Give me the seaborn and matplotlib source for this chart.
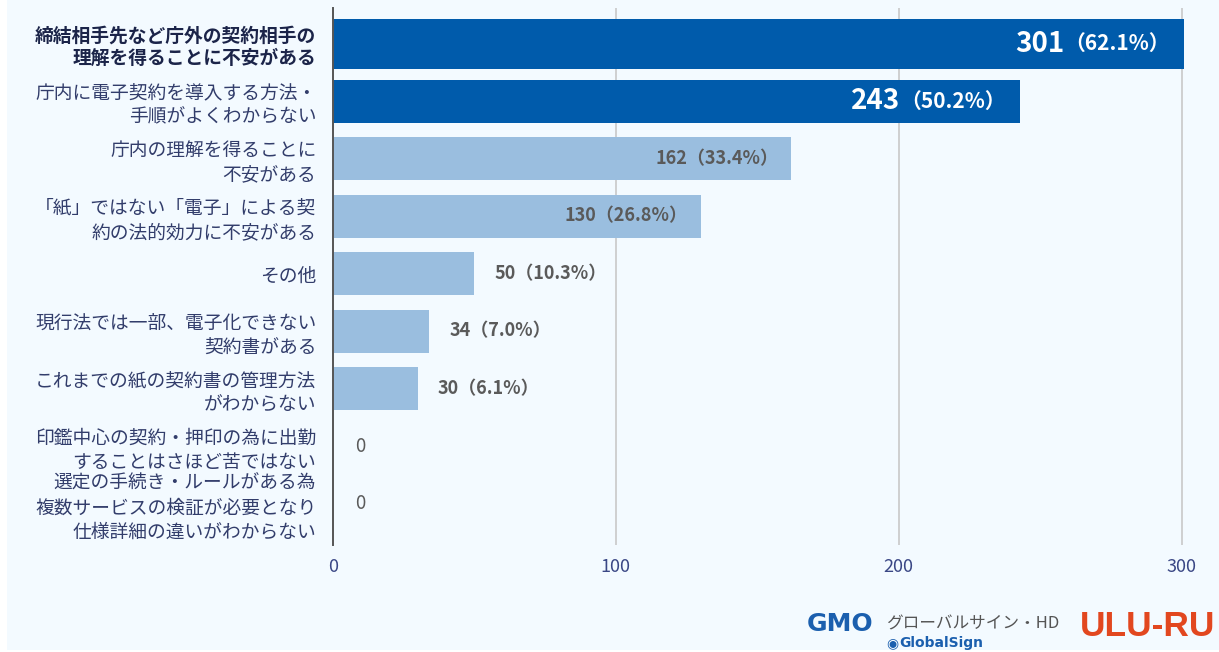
import matplotlib
matplotlib.use("Agg")
import matplotlib.pyplot as plt
import seaborn as sns
import pandas as pd
from matplotlib.patches import Rectangle

# ---- data -------------------------------------------------------------
categories = [
    "締結相手先など庁外の契約相手の\n理解を得ることに不安がある",
    "庁内に電子契約を導入する方法・\n手順がよくわからない",
    "庁内の理解を得ることに\n不安がある",
    "「紙」ではない「電子」による契\n約の法的効力に不安がある",
    "その他",
    "現行法では一部、電子化できない\n契約書がある",
    "これまでの紙の契約書の管理方法\nがわからない",
    "印鑑中心の契約・押印の為に出勤\nすることはさほど苦ではない",
    "選定の手続き・ルールがある為\n複数サービスの検証が必要となり\n仕様詳細の違いがわからない",
]
counts = [301, 243, 162, 130, 50, 34, 30, 0, 0]
shares = [62.1, 50.2, 33.4, 26.8, 10.3, 7.0, 6.1, 0.0, 0.0]
x_ticks = [0, 100, 200, 300]

# ---- style ------------------------------------------------------------
W, H = 1219, 652
DARK = "#005bab"
LIGHT = "#9abedf"
BG = "#f3faff"
LABEL_C = "#323d6b"
LABEL_BOLD_C = "#1b2449"
TICK_C = "#3a4785"
VALUE_C = "#5a5a5a"
N_DARK = 2

sns.set_style("white")
plt.rcParams["font.family"] = ["Noto Sans CJK JP", "DejaVu Sans"]

df = pd.DataFrame({"item": categories, "count": counts, "share": shares})

fig = plt.figure(figsize=(W / 100, H / 100), dpi=100, facecolor="white")
fig.patches.append(Rectangle((7 / W, 2 / H), 1, 1, transform=fig.transFigure,
                             facecolor=BG, edgecolor="none", zorder=-10))
ax = fig.add_axes([333 / W, 1 - 545 / H, 857 / W, 537 / H])
ax.set_facecolor("none")

common = dict(x="count", y="item", order=categories, orient="h",
              errorbar=None, linewidth=0, saturation=1, ax=ax)
sns.barplot(data=df.iloc[:1], width=0.87, color=DARK, **common)
sns.barplot(data=df.iloc[1:N_DARK], width=0.745, color=DARK, **common)
sns.barplot(data=df.iloc[N_DARK:], width=0.745, color=LIGHT, **common)

ax.set_xlim(0, 303)
ax.set_ylim(8.72, -0.62)
ax.set_xticks(x_ticks)
ax.set_xlabel("")
ax.set_ylabel("")
ax.grid(axis="x", color="#c8c8c8", linewidth=1.2)
ax.set_axisbelow(True)
for side in ("top", "right", "bottom"):
    ax.spines[side].set_visible(False)
ax.spines["left"].set_color("#555555")
ax.spines["left"].set_linewidth(1.4)
ax.spines["left"].set_zorder(5)

ax.tick_params(axis="x", length=0, pad=9, labelsize=13, labelcolor=TICK_C)
ax.tick_params(axis="y", length=0, pad=12, labelsize=13.5, labelcolor=LABEL_C)
for k, t in enumerate(ax.get_yticklabels()):
    t.set_linespacing(1.2)
    if k == 0:
        t.set_fontweight("bold")
        t.set_color(LABEL_BOLD_C)

# ---- value labels ------------------------------------------------------
renderer = fig.canvas.get_renderer()
for i, (c, s) in enumerate(zip(counts, shares)):
    if c == 0:
        ax.annotate("0", xy=(0, i), xytext=(22, 0), textcoords="offset pixels",
                    ha="left", va="center", fontsize=13.5, color=VALUE_C)
    elif i < N_DARK:
        pct = ax.annotate(f"（{s:.1f}%）", xy=(c, i), xytext=(-14, 0),
                          textcoords="offset pixels", ha="right", va="center",
                          fontsize=15, fontweight="bold", color="white")
        wpx = pct.get_window_extent(renderer).width
        ax.annotate(f"{c}", xy=(c, i), xytext=(-14 - wpx, 0),
                    textcoords="offset pixels", ha="right", va="center",
                    fontsize=20, fontweight="bold", color="white")
    elif c >= 100:
        ax.annotate(f"{c}（{s:.1f}%）", xy=(c, i), xytext=(-13, 0),
                    textcoords="offset pixels", ha="right", va="center",
                    fontsize=13, fontweight="bold", color=VALUE_C)
    else:
        ax.annotate(f"{c}（{s:.1f}%）", xy=(c, i), xytext=(20, 0),
                    textcoords="offset pixels", ha="left", va="center",
                    fontsize=13, fontweight="bold", color=VALUE_C)

# ---- footer logos -------------------------------------------------------
fig.text(807 / W, 1 - 624 / H, "GMO", fontsize=18, fontweight="heavy",
         color="#1b5fae", va="center", ha="left", family=["DejaVu Sans"])
fig.text(886 / W, 1 - 624 / H, "グローバルサイン・HD", fontsize=12,
         color="#555555", va="center", ha="left")
fig.text(886 / W, 1 - 643 / H, "◉", fontsize=10, color="#1b5fae",
         va="center", ha="left", family=["DejaVu Sans"])
fig.text(899 / W, 1 - 643 / H, "GlobalSign", fontsize=10, fontweight="bold",
         color="#1b5fae", va="center", ha="left", family=["DejaVu Sans"])
fig.text(1080 / W, 1 - 627 / H, "ULU-RU", fontsize=25.5, fontweight="heavy",
         color="#e2471f", va="center", ha="left",
         family=["Liberation Sans", "DejaVu Sans"])

fig.savefig("out.png", dpi=100, facecolor=fig.get_facecolor())
